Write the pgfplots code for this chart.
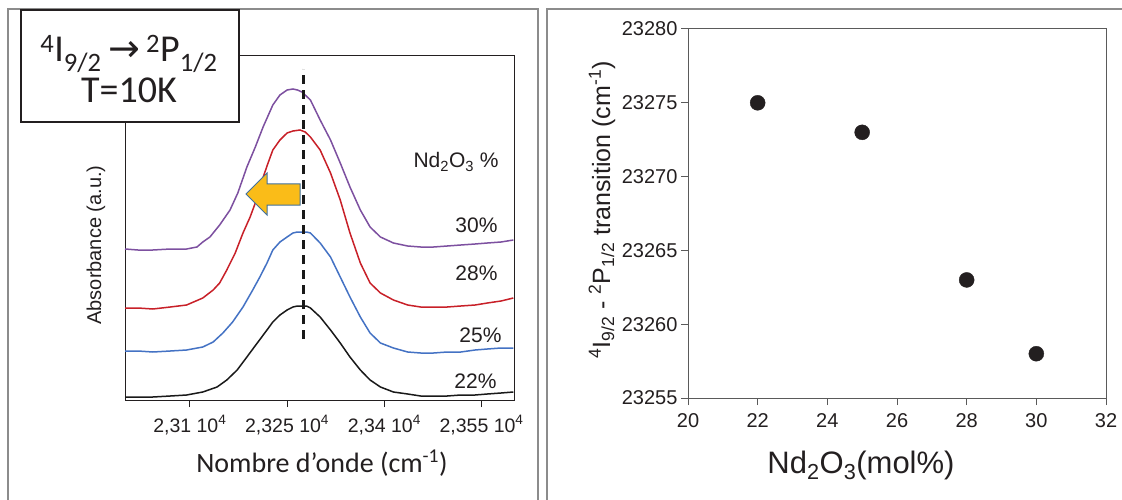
\documentclass[border=0pt]{standalone}
\usepackage{fontspec}
\setmainfont{Liberation Sans}
\newfontfamily\carlito{Carlito}
\newfontfamily\dejavu{DejaVu Sans}
\usepackage{pgfplots}
\pgfplotsset{compat=1.18}
\definecolor{cpurple}{RGB}{125,80,160}
\definecolor{cred}{RGB}{200,32,40}
\definecolor{cblue}{RGB}{68,114,196}
\definecolor{ctext}{RGB}{35,31,32}
\definecolor{cframe}{RGB}{140,140,140}
\definecolor{caxis}{RGB}{90,90,90}
\definecolor{corange}{RGB}{250,188,24}
\definecolor{cborder}{RGB}{65,113,156}
\begin{document}
\begin{tikzpicture}[x=1pt,y=1pt]
\useasboundingbox (0,0) rectangle (1122,499);
\fill[white] (0,0) rectangle (1122,499);
\draw[cframe, line width=1.5pt] (8,490) rectangle (538,-20);
\draw[cframe, line width=1.5pt] (547,490) rectangle (1140,-20);

% ---------------- left panel ----------------
\begin{axis}[at={(125pt,99pt)}, anchor=south west, scale only axis,
  width=389pt, height=345pt,
  xmin=23000, xmax=23600, ymin=0, ymax=345,
  scaled ticks=false,
  axis line style={ctext, line width=0.9pt},
  ytick=\empty, xtick={23100,23250,23400,23550},
  xticklabels={{2,31 10\textsuperscript{4}},{2,325 10\textsuperscript{4}},{2,34 10\textsuperscript{4}},{2,355 10\textsuperscript{4}}},
  xtick pos=left, tick align=outside, major tick length=7pt,
  tick style={ctext, line width=0.9pt},
  xticklabel style={font=\fontsize{19.5}{21}\selectfont, text=ctext, yshift=-5pt},
  clip=false]
\addplot[black!90, line width=1.5pt] coordinates {(23000,3) (23020,3) (23043,3) (23070,4) (23095,5) (23120,8) (23142,13) (23157,20) (23173,30) (23188,43) (23204,57) (23219,70) (23228,78) (23239,85) (23250,90) (23259,93) (23266,94) (23273,94) (23280,94) (23286,92) (23301,83) (23317,70) (23332,57) (23347,43) (23363,30) (23378,20) (23394,13) (23414,8) (23436,6) (23456,4) (23476,4) (23497,4) (23518,5) (23540,5) (23559,6) (23580,7) (23599,8)};
\addplot[cblue, line width=1.5pt] coordinates {(23000,49) (23020,49) (23043,48) (23070,49) (23095,50) (23120,53) (23136,58) (23151,67) (23166,78) (23182,93) (23197,110) (23208,123) (23219,137) (23228,150) (23239,158) (23250,163) (23259,167) (23266,168) (23273,168) (23280,168) (23286,167) (23301,157) (23317,143) (23332,123) (23347,103) (23363,83) (23378,67) (23394,57) (23414,52) (23436,48) (23456,47) (23476,47) (23497,48) (23518,48) (23540,50) (23559,51) (23580,52) (23599,52)};
\addplot[cred, line width=1.5pt] coordinates {(23000,92) (23020,92) (23043,91) (23070,93) (23095,95) (23120,102) (23136,110) (23146,117) (23157,130) (23170,147) (23182,167) (23193,183) (23201,197) (23208,213) (23219,234) (23228,250) (23239,260) (23250,267) (23259,269) (23270,270) (23278,268) (23286,263) (23301,250) (23317,227) (23332,200) (23347,167) (23363,137) (23378,117) (23394,107) (23414,100) (23436,95) (23456,93) (23476,93) (23497,93) (23518,94) (23540,95) (23559,97) (23580,99) (23599,102)};
\addplot[cpurple, line width=1.5pt] coordinates {(23000,151) (23020,150) (23043,150) (23070,151) (23095,151) (23111,153) (23120,158) (23131,163) (23146,175) (23162,190) (23174,207) (23188,233) (23201,253) (23213,273) (23228,295) (23239,305) (23250,310) (23259,311) (23266,310) (23273,308) (23286,300) (23301,280) (23317,260) (23332,237) (23347,213) (23363,190) (23378,173) (23394,163) (23414,157) (23436,154) (23456,153) (23476,153) (23497,154) (23518,155) (23540,156) (23559,157) (23580,158) (23599,160)};
\addplot[black!90, line width=3pt, dash pattern=on 9pt off 6pt] coordinates {(23275,61) (23275,331)};
\end{axis}

% arrow
\draw[fill=corange, draw=cborder, line width=1pt] (246,305) -- (267,326) -- (267,315) -- (300,315) -- (300,294) -- (267,294) -- (267,284) -- cycle;

% labels left
\node[rotate=90, anchor=base, font=\fontsize{20}{22}\selectfont, text=ctext] at (101,254) {Absorbance (a.u.)};
\node[anchor=base, font=\carlito\fontsize{28}{30}\selectfont, text=ctext] at (322,27) {Nombre d’onde (cm\textsuperscript{-1})};
\node[anchor=base west, font=\fontsize{21}{24}\selectfont, text=ctext] at (410,331) {Nd\textsubscript{2}O\textsubscript{3} \%};
\node[anchor=base east, font=\fontsize{21}{24}\selectfont, text=ctext] at (501,267) {30\%};
\node[anchor=base east, font=\fontsize{21}{24}\selectfont, text=ctext] at (501,219) {28\%};
\node[anchor=base east, font=\fontsize{21}{24}\selectfont, text=ctext] at (505,157) {25\%};
\node[anchor=base east, font=\fontsize{21}{24}\selectfont, text=ctext] at (500,111) {22\%};

% box
\draw[fill=white, draw=ctext, line width=1.5pt] (21,489) rectangle (239,377);
\node[anchor=base, font=\carlito\fontsize{38}{40}\selectfont, text=ctext] at (129,437) {\textsuperscript{4}I\textsubscript{9/2}\,{\dejavu →}\,\textsuperscript{2}P\textsubscript{1/2}};
\node[anchor=base, font=\carlito\fontsize{38}{40}\selectfont, text=ctext] at (129,396) {T=10K};

% ---------------- right panel ----------------
\begin{axis}[at={(688pt,101pt)}, anchor=south west, scale only axis,
  width=418pt, height=369pt,
  xmin=20, xmax=32, ymin=23255, ymax=23280,
  scaled ticks=false,
  xtick={20,22,24,26,28,30,32}, xticklabels={20,22,24,26,28,30,32},
  ytick={23255,23260,23265,23270,23275,23280},
  yticklabels={23255,23260,23265,23270,23275,23280},
  xtick pos=left, ytick pos=left, tick align=outside, major tick length=7pt,
  axis line style={caxis, line width=1pt},
  tick style={caxis, line width=1pt},
  ticklabel style={font=\fontsize{20}{22}\selectfont, text=ctext},
  xticklabel style={yshift=-5pt},
  clip=false]
\addplot[only marks, mark=*, mark size=7.5pt, mark options={fill=ctext, draw=ctext}] coordinates {(22,23275) (25,23273) (28,23263) (30,23258)};
\end{axis}
\node[rotate=90, anchor=base, font=\fontsize{25}{28}\selectfont, text=ctext] at (610,289) {\textsuperscript{4}I\textsubscript{9/2} - \textsuperscript{2}P\textsubscript{1/2} transition (cm\textsuperscript{-1})};
\node[anchor=base, font=\fontsize{31}{34}\selectfont, text=ctext] at (861,26) {Nd\textsubscript{2}O\textsubscript{3}(mol\%)};
\end{tikzpicture}
\end{document}
